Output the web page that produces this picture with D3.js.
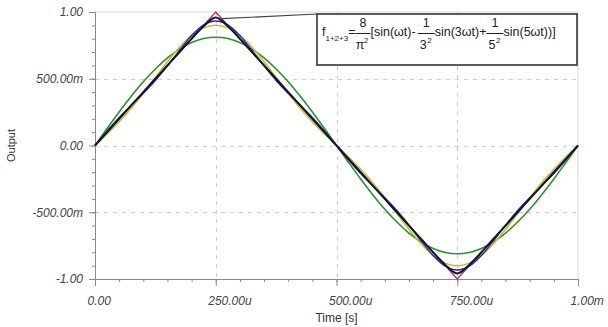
<!DOCTYPE html>
<html><head><meta charset="utf-8">
<script src="https://cdn.jsdelivr.net/npm/d3@7/dist/d3.min.js"></script>
<style>
html,body{margin:0;padding:0;background:#fff;}
svg{display:block;}
text{font-family:"Liberation Sans",Arial,sans-serif;}
</style></head>
<body><svg id="c" width="608" height="327"></svg>
<script>
// time samples in microseconds
const timeUs = [0,25,50,75,100,125,150,175,200,225,250,275,300,325,350,375,400,425,450,475,500,
  525,550,575,600,625,650,675,700,725,750,775,800,825,850,875,900,925,950,975,1000];
// f1 (fundamental only)
const f1 = [0,.127,.251,.368,.477,.573,.656,.722,.771,.801,.811,.801,.771,.722,.656,.573,.477,.368,.251,.127,0,
  -.127,-.251,-.368,-.477,-.573,-.656,-.722,-.771,-.801,-.811,-.801,-.771,-.722,-.656,-.573,-.477,-.368,-.251,-.127,0];
// f1+2
const f12 = [0,.086,.178,.279,.391,.510,.628,.736,.824,.881,.901,.881,.824,.736,.628,.510,.391,.279,.178,.086,0,
  -.086,-.178,-.279,-.391,-.510,-.628,-.736,-.824,-.881,-.901,-.881,-.824,-.736,-.628,-.510,-.391,-.279,-.178,-.086,0];
// f1+2+3
const f123 = [0,.109,.210,.302,.391,.487,.596,.713,.824,.904,.933,.904,.824,.713,.596,.487,.391,.302,.210,.109,0,
  -.109,-.210,-.302,-.391,-.487,-.596,-.713,-.824,-.904,-.933,-.904,-.824,-.713,-.596,-.487,-.391,-.302,-.210,-.109,0];
// many-term approximation (nearly triangular, rounded peak)
const fMany = [0,.100,.200,.300,.400,.500,.600,.700,.800,.893,.958,.893,.800,.700,.600,.500,.400,.300,.200,.100,0,
  -.100,-.200,-.300,-.400,-.500,-.600,-.700,-.800,-.893,-.958,-.893,-.800,-.700,-.600,-.500,-.400,-.300,-.200,-.100,0];
// ideal triangle
const triT = [0,250,750,1000];
const triV = [0,1,-1,0];

const yTicks = [-1,-0.5,0,0.5,1];
const yTickLabels = ["-1.00","-500.00m","0.00","500.00m","1.00"];
const xTicks = [0,250,500,750,1000];
const xTickLabels = ["0.00","250.00u","500.00u","750.00u","1.00m"];

const svg = d3.select("#c");
const x = d3.scaleLinear().domain([0,1000]).range([95,578]);
const y = d3.scaleLinear().domain([-1,1]).range([279,12]);

// frame (top/right)
svg.append("path").attr("d",`M${x(0)},${y(1)}H${x(1000)}V${y(-1)}`)
  .attr("fill","none").attr("stroke","#d8d8d8").attr("stroke-width",1);

// grid
const g = svg.append("g").attr("stroke","#cfcfcf").attr("stroke-dasharray","4,5").attr("stroke-width",1);
yTicks.filter(v=>v>-1&&v<1).forEach(v=>{
  g.append("line").attr("x1",x(0)).attr("x2",x(1000)).attr("y1",Math.round(y(v))+.5).attr("y2",Math.round(y(v))+.5);
});
xTicks.filter(v=>v>0&&v<1000).forEach(v=>{
  g.append("line").attr("y1",y(1)).attr("y2",y(-1)).attr("x1",Math.round(x(v))+.5).attr("x2",Math.round(x(v))+.5);
});

// axes
const yAxis = d3.axisLeft(y).tickValues(yTicks).tickFormat((d,i)=>yTickLabels[i]).tickSize(6).tickPadding(3);
const yMinor = d3.axisLeft(y).tickValues(d3.range(-1,1.0001,0.1)).tickFormat("").tickSize(3);
const xAxis = d3.axisBottom(x).tickValues(xTicks).tickFormat((d,i)=>xTickLabels[i]).tickSize(7).tickPadding(10);
const xMinor = d3.axisBottom(x).tickValues(d3.range(0,1000.1,50)).tickFormat("").tickSize(3);

function styleAxis(sel){
  sel.select(".domain").attr("stroke","#8a8a8a");
  sel.selectAll(".tick line").attr("stroke","#8a8a8a");
  sel.selectAll("text").attr("fill","#444").attr("font-style","italic").attr("font-size","12px");
}
svg.append("g").attr("transform",`translate(${x(0)},0)`).call(yMinor).call(styleAxis);
svg.append("g").attr("transform",`translate(${x(0)},0)`).call(yAxis).call(styleAxis)
  .selectAll("text").attr("dx","-3");
svg.append("g").attr("transform",`translate(0,${y(-1)})`).call(xMinor).call(styleAxis);
const xa = svg.append("g").attr("transform",`translate(0,${y(-1)})`).call(xAxis).call(styleAxis);
xa.selectAll("text").attr("text-anchor","start").attr("dx","-8");

// axis titles
svg.append("text").attr("x",x(500)).attr("y",322).attr("text-anchor","middle")
  .attr("font-size","12px").attr("fill","#333").text("Time [s]");
svg.append("text").attr("transform",`translate(15,${y(0)}) rotate(-90)`).attr("text-anchor","middle")
  .attr("font-size","11px").attr("fill","#333").text("Output");

// curves
const mk = vals => timeUs.map((t,i)=>[t,vals[i]]);
const smooth = d3.line().x(d=>x(d[0])).y(d=>y(d[1])).curve(d3.curveMonotoneX);
const lin = d3.line().x(d=>x(d[0])).y(d=>y(d[1]));
const curves = svg.append("g").attr("fill","none").attr("stroke-linejoin","round");
curves.append("path").attr("d",smooth(mk(f1))).attr("stroke","#2f8f32").attr("stroke-width",1.6);
curves.append("path").attr("d",smooth(mk(f12))).attr("stroke","#c2be3c").attr("stroke-width",1.6);
curves.append("path").attr("d",lin(triT.map((t,i)=>[t,triV[i]]))).attr("stroke","#b0304e").attr("stroke-width",1.2);
curves.append("path").attr("d",smooth(mk(f123))).attr("stroke","#2a2aa8").attr("stroke-width",1.4);
curves.append("path").attr("d",smooth(mk(fMany))).attr("stroke","#151528").attr("stroke-width",2);

// annotation leader + box
svg.append("line").attr("x1",x(263)).attr("y1",y(0.95)).attr("x2",317).attr("y2",14)
  .attr("stroke","#444").attr("stroke-width",1.2);
svg.append("rect").attr("x",317).attr("y",14).attr("width",260).attr("height",51)
  .attr("fill","#fff").attr("stroke","#333").attr("stroke-width",1.6);

// formula
const ft = svg.append("g").attr("fill","#222");
let cx = 322; const base = 38; const fs = 12.5;
function txt(s, size, yy){ return ft.append("text").attr("x",cx).attr("y",yy).attr("font-size",size+"px").text(s); }
function run(s, size, yy){ const t = txt(s,size,yy); cx += t.node().getComputedTextLength(); }
function frac(num, den, sup, w){
  const c = cx + w/2;
  ft.append("text").attr("x",c).attr("y",base-11).attr("font-size",fs+"px").attr("text-anchor","middle").text(num);
  ft.append("line").attr("x1",cx).attr("x2",cx+w).attr("y1",base-4.5).attr("y2",base-4.5).attr("stroke","#222").attr("stroke-width",1);
  ft.append("text").attr("x",c-3).attr("y",base+11).attr("font-size",fs+"px").attr("text-anchor","middle").text(den);
  ft.append("text").attr("x",c+1).attr("y",base+5).attr("font-size","8px").text(sup);
  cx += w;
}
run("f",fs,base-2);
run("1+2+3",8,base+3);
run("=",fs,base-2);
frac("8","π","2",15);
run("[sin(ωt)-",fs,base-2);
cx += 2;
frac("1","3","2",17);
run("sin(3ωt)+",fs,base-2);
frac("1","5","2",17);
run("sin(5ωt))]",fs,base-2);
</script></body></html>
